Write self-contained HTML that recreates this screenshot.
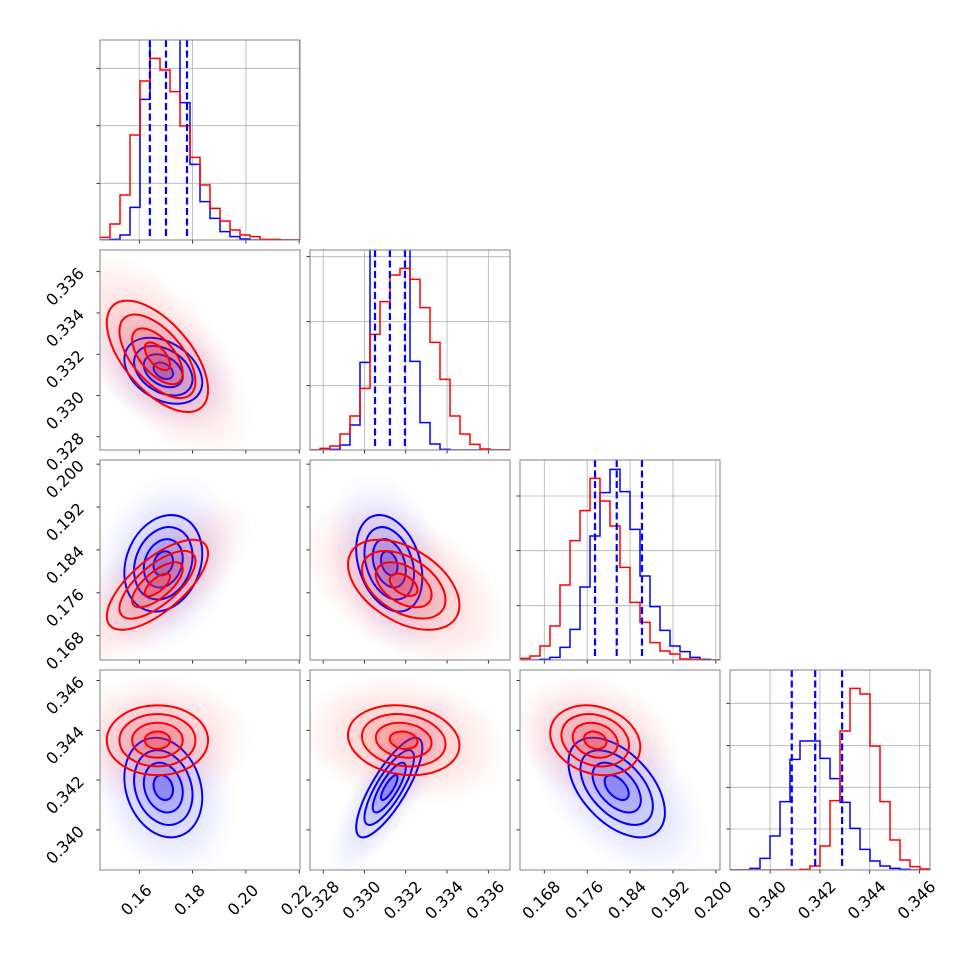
<!DOCTYPE html>
<html><head><meta charset="utf-8"><style>
html,body{margin:0;padding:0;background:#fff;}
svg{display:block;font-family:"DejaVu Sans","Liberation Sans",sans-serif;}
</style></head><body>
<svg id="fig" width="970" height="970" viewBox="0 0 970 970" xmlns="http://www.w3.org/2000/svg">
<rect width="970" height="970" fill="#fff"/>
<defs>
<radialGradient id="gr"><stop offset="0" stop-color="#ff3030" stop-opacity="0.25"/><stop offset="0.55" stop-color="#ff5050" stop-opacity="0.15"/><stop offset="0.85" stop-color="#ff6060" stop-opacity="0.05"/><stop offset="1" stop-color="#ff6060" stop-opacity="0"/></radialGradient>
<radialGradient id="gb"><stop offset="0" stop-color="#3030ff" stop-opacity="0.22"/><stop offset="0.55" stop-color="#5050ff" stop-opacity="0.13"/><stop offset="0.85" stop-color="#6060ff" stop-opacity="0.04"/><stop offset="1" stop-color="#6060ff" stop-opacity="0"/></radialGradient>
</defs>
</svg>
<script>
// ---- data ----
const paramLo = [0.14525, 0.32736, 0.16347, 0.33839];
const paramHi = [0.2203, 0.33705, 0.20077, 0.34642];
const ticks0 = [0.16, 0.18, 0.20, 0.22];
const ticks1 = [0.328, 0.330, 0.332, 0.334, 0.336];
const ticks2 = [0.168, 0.176, 0.184, 0.192, 0.200];
const ticks3 = [0.340, 0.342, 0.344, 0.346];
const tickLabels0 = ["0.16", "0.18", "0.20", "0.22"];
const tickLabels1 = ["0.328", "0.330", "0.332", "0.334", "0.336"];
const tickLabels2 = ["0.168", "0.176", "0.184", "0.192", "0.200"];
const tickLabels3 = ["0.340", "0.342", "0.344", "0.346"];
const histRed0 = [8,48,135,315,477,545,510,445,342,248,165,95,57,30,15,10,2,2,0,0];
const histBlue0 = [0,2,15,98,422,650,680,650,412,227,115,65,25,10,3,0,0,0,0,0];
const histRed1 = [0,5,12,48,102,185,347,445,525,545,512,427,323,212,102,48,17,3,0,0];
const histBlue1 = [0,0,2,15,75,263,700,760,760,700,266,82,18,2,0,0,0,0,0,0];
const histRed2 = [5,12,42,102,225,358,448,545,477,402,278,173,113,52,27,18,3,2,0,0];
const histBlue2 = [0,0,2,8,38,92,219,372,502,572,505,392,252,160,89,42,25,8,2,0];
const histRed3 = [0,0,0,0,0,0,0,2,12,72,208,417,545,528,372,205,90,30,10,3];
const histBlue3 = [0,0,5,35,102,205,332,387,387,335,274,203,125,62,27,12,5,2,0,0];
const histMax = [600, 600, 600, 600];
const histTicks0 = [170, 343, 515];
const histTicks1 = [193, 385, 580];
const histTicks2 = [163, 328, 492];
const histTicks3 = [123, 248, 373, 500];
const quant0 = [0.16396, 0.17001, 0.17789];
const quant1 = [0.33051, 0.33123, 0.33196];
const quant2 = [0.17746, 0.18151, 0.18622];
const quant3 = [0.34087, 0.34181, 0.34289];
const meanRed = [0.1668, 0.3319, 0.1775, 0.3436];
const sdRed = [0.0095, 0.00135, 0.0042, 0.0007];
const meanBlue = [0.169, 0.3312, 0.1815, 0.3417];
const sdBlue = [0.0073, 0.0008, 0.0045, 0.0010];
const pairs = [[0,1],[0,2],[1,2],[0,3],[1,3],[2,3]];
const rhoRed = [-0.6, 0.7, -0.45, 0.0, -0.15, -0.2];
const rhoBlue = [-0.35, 0.2, -0.3, -0.2, 0.8, -0.5];
const contourLevels = [2, 1.5, 1, 0.5];

const ticksAll=[ticks0,ticks1,ticks2,ticks3];
const labelsAll=[tickLabels0,tickLabels1,tickLabels2,tickLabels3];
const histRed=[histRed0,histRed1,histRed2,histRed3];
const histBlue=[histBlue0,histBlue1,histBlue2,histBlue3];
const histTicks=[histTicks0,histTicks1,histTicks2,histTicks3];
const quants=[quant0,quant1,quant2,quant3];

const NS="http://www.w3.org/2000/svg";
const svg=document.getElementById('fig');
const S=200;
function px(c){return 100+210*c;}
function py(r){return 40+210*r;}
function sx(p,c,v){return px(c)+(v-paramLo[p])/(paramHi[p]-paramLo[p])*S;}
function sy(p,r,v){return py(r)+S-(v-paramLo[p])/(paramHi[p]-paramLo[p])*S;}
function hy(p,r,v){return py(r)+S-v/histMax[p]*S;}
function mk(tag,attrs,parent){const e=document.createElementNS(NS,tag);for(const k in attrs)e.setAttribute(k,attrs[k]);(parent||svg).appendChild(e);return e;}

function ellipse(g,cx,cy,sxp,syp,rho,k,stroke,fill,sw){
  const a=sxp*sxp,b=syp*syp,c=-rho*sxp*syp;
  const t=0.5*Math.atan2(2*c,a-b);
  const m=(a+b)/2,d=Math.sqrt(((a-b)/2)**2+c*c);
  const r1=Math.sqrt(m+d)*k,r2=Math.sqrt(Math.max(m-d,0.01))*k;
  const e=mk('ellipse',{cx:0,cy:0,rx:r1,ry:r2,transform:`translate(${cx},${cy}) rotate(${t*180/Math.PI})`,fill:fill,stroke:stroke,'stroke-width':sw},g);
  return e;
}

for(let r=0;r<4;r++){
  for(let c=0;c<=r;c++){
    const x0=px(c),y0=py(r);
    const clip=mk('clipPath',{id:`cl${r}${c}`});
    mk('rect',{x:x0,y:y0,width:S,height:S},clip);
    const panel=mk('g',{});
    
    
    const g=mk('g',{'clip-path':`url(#cl${r}${c})`},panel);
    if(r===c){
      const p=r;
      ticksAll[p].forEach(v=>{const X=sx(p,c,v);mk('line',{x1:X,x2:X,y1:y0,y2:y0+S,stroke:'#b0b0b0','stroke-width':0.8},g);});
      histTicks[p].forEach(v=>{const Y=hy(p,r,v);mk('line',{x1:x0,x2:x0+S,y1:Y,y2:Y,stroke:'#b0b0b0','stroke-width':0.8},g);});
      [[histBlue[p],'#0000ff','hist-blue'],[histRed[p],'#ff0000','hist-red']].forEach(([arr,col,nm])=>{
        const n=arr.length,w=(paramHi[p]-paramLo[p])/n;
        let d=`M${sx(p,c,paramLo[p])},${y0+S}`;
        arr.forEach((v,i)=>{const Y=hy(p,r,v);d+=` L${sx(p,c,paramLo[p]+i*w)},${Y} L${sx(p,c,paramLo[p]+(i+1)*w)},${Y}`;});
        d+=` L${sx(p,c,paramHi[p])},${y0+S}`;
        const path=mk('path',{d:d,fill:'none',stroke:col,'stroke-width':1.5},g);
        
        
      });
      quants[p].forEach((v,i)=>{const X=sx(p,c,v);const l=mk('line',{x1:X,x2:X,y1:y0,y2:y0+S,stroke:'#0000ff','stroke-width':2.2,'stroke-dasharray':'7,3.5'},g);
        
        });
      histTicks[p].forEach(v=>{const Y=hy(p,r,v);mk('line',{x1:x0-3.5,x2:x0,y1:Y,y2:Y,stroke:'#000','stroke-width':0.8},panel);});
    } else {
      const pi=pairs.findIndex(q=>q[0]===c&&q[1]===r);
      const series=[[meanBlue,sdBlue,rhoBlue,'#0000ff','url(#gb)','rgba(70,70,255,','blue'],[meanRed,sdRed,rhoRed,'#ff0000','url(#gr)','rgba(255,50,50,','red']];
      series.forEach(([mu,sd,rho,col,grad])=>{
        const cx=sx(c,c,mu[c]),cy=sy(r,r,mu[r]);
        const sxp=sd[c]/(paramHi[c]-paramLo[c])*S,syp=sd[r]/(paramHi[r]-paramLo[r])*S;
        ellipse(g,cx,cy,sxp,syp,rho[pi],3.8,'none',grad,0);
      });
      const fillA=[0.05,0.09,0.16,0.28];
      series.forEach(([mu,sd,rho,col,grad,rg,nm])=>{
        const cx=sx(c,c,mu[c]),cy=sy(r,r,mu[r]);
        const sxp=sd[c]/(paramHi[c]-paramLo[c])*S,syp=sd[r]/(paramHi[r]-paramLo[r])*S;
        contourLevels.forEach((k,i)=>{
          const e=ellipse(g,cx,cy,sxp,syp,rho[pi],k,col,rg+fillA[i]+')',2);
          
          
        });
      });
      ticksAll[r].forEach(v=>{const Y=sy(r,r,v);mk('line',{x1:x0-3.5,x2:x0,y1:Y,y2:Y,stroke:'#000','stroke-width':0.8},panel);});
      if(c===0){
        ticksAll[r].forEach((v,i)=>{const Y=sy(r,r,v);
          if(Y<y0-2||Y>y0+S+2)return;
          const t=mk('text',{x:0,y:0,transform:`translate(${x0-35},${Y+15}) rotate(-45)`,'text-anchor':'middle','dominant-baseline':'central','font-size':16,fill:'#000'},svg);
          t.textContent=labelsAll[r][i];
          
          });
      }
    }
    ticksAll[c].forEach((v,i)=>{const X=sx(c,c,v);if(X<x0-1||X>x0+S+1)return;
      mk('line',{x1:X,x2:X,y1:y0+S,y2:y0+S+3.5,stroke:'#000','stroke-width':0.8},panel);
      if(r===3){const t=mk('text',{x:0,y:0,transform:`translate(${X-3},${y0+S+30}) rotate(-45)`,'text-anchor':'middle','dominant-baseline':'central','font-size':16,fill:'#000'},svg);
        t.textContent=labelsAll[c][i];
        
        }
    });
    mk('rect',{x:x0,y:y0,width:S,height:S,fill:'none',stroke:'#808080','stroke-width':1},panel);
  }
}
</script>
</body></html>
